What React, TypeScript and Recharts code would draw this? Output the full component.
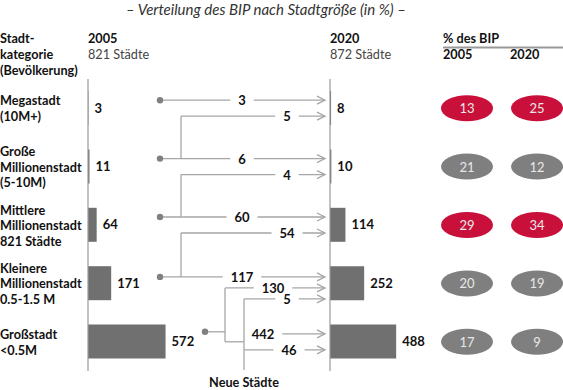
import { Bar, BarChart, LabelList, Scatter, ScatterChart, XAxis, YAxis } from "recharts";

const rowNames = ["Megastadt", "Große Millionenstadt", "Mittlere Millionenstadt", "Kleinere Millionenstadt", "Großstadt"];
const rowLabelLines = [
  ["Megastadt", "(10M+)"],
  ["Große", "Millionenstadt", "(5-10M)"],
  ["Mittlere", "Millionenstadt", "821 Städte"],
  ["Kleinere", "Millionenstadt", "0.5-1.5 M"],
  ["Großstadt", "<0.5M"],
];
const cities2005 = [3, 11, 64, 171, 572];
const cities2020 = [8, 10, 114, 252, 488];
const bip2005 = [13, 21, 29, 20, 17];
const bip2020 = [25, 12, 34, 19, 9];
const bipHighlight = [true, false, true, false, false];

// flows between categories, -1 = Neue Städte
const flowFrom = [0, 1, 1, 2, 2, 3, 3, 4, -1, 4, -1];
const flowTo = [0, 0, 1, 1, 2, 2, 3, 3, 3, 4, 4];
const flowValue = [3, 5, 6, 4, 60, 54, 117, 130, 5, 442, 46];

const W = 563;
const H = 390;
const TOP = 79;
const BOTTOM = 19;
const BAND = (H - TOP - BOTTOM) / rowNames.length;
const rowY = (i: number) => TOP + (i + 0.5) * BAND;

const FONT = 13;
const LABEL_FONT = 12.7;
const BAR_COLOR = "#707070";
const LINE_COLOR = "#a6a6a6";
const DOT_COLOR = "#808080";
const RED = "#c8103a";
const GREY = "#7f7f7f";

const data2005 = rowNames.map((name, i) => ({ name, value: cities2005[i] }));
const data2020 = rowNames.map((name, i) => ({ name, value: cities2020[i] }));
const bipData = (values: number[], year: number) =>
  rowNames.map((name, i) => ({ name, x: year, y: i, value: values[i], hi: bipHighlight[i] }));

// slot of each incoming flow inside its target row
const slotOffsets: Record<number, number[]> = { 2: [-8, 8], 3: [-6.5, 4.5, 15.5] };
const slotY = (k: number) => {
  const to = flowTo[k];
  const incoming = flowTo.map((t, j) => (t === to ? j : -1)).filter((j) => j >= 0);
  return rowY(to) + slotOffsets[incoming.length][incoming.indexOf(k)];
};
const selfIndex = (r: number) => flowFrom.findIndex((f, j) => f === r && flowTo[j] === r);

const DOT_X = 160;
const BRANCH_X = 181;
const END_X = 325;
const BIG_DOT_X = 205;
const BIG_BRANCH_X = 225;
const NEW_X = 244;

const ValueText = ({ x, y, v }: { x: number; y: number; v: number }) => {
  const w = String(v).length * 7.5 + 16;
  return (
    <g>
      <rect x={x - w / 2} y={y - 3} width={w} height={6} fill="#fff" />
      <text x={x} y={y + 5} textAnchor="middle" fontSize={FONT} fontWeight="bold" fill="#111">
        {v}
      </text>
    </g>
  );
};

const Arrow = ({ x1, y, v, lx }: { x1: number; y: number; v: number; lx: number }) => (
  <g>
    <line x1={x1} y1={y} x2={END_X} y2={y} stroke={LINE_COLOR} strokeWidth={1.3} />
    <polyline
      points={`${END_X - 8},${y - 4} ${END_X},${y} ${END_X - 8},${y + 4}`}
      fill="none"
      stroke={LINE_COLOR}
      strokeWidth={1.3}
    />
    <ValueText x={lx} y={y} v={v} />
  </g>
);

const Flows = () => {
  const els: any[] = [];
  const bigRow = rowNames.length - 1;
  flowValue.forEach((v, k) => {
    const from = flowFrom[k];
    const to = flowTo[k];
    const y = slotY(k);
    if (from === -1) {
      els.push(<Arrow key={k} x1={NEW_X} y={y} v={v} lx={to === bigRow ? 289 : 287} />);
    } else if (from === bigRow && to === bigRow) {
      els.push(<Arrow key={k} x1={NEW_X} y={y} v={v} lx={263} />);
    } else if (from === to) {
      els.push(<Arrow key={k} x1={DOT_X} y={y} v={v} lx={242} />);
      els.push(<circle key={`d${k}`} cx={DOT_X} cy={y} r={3.2} fill={DOT_COLOR} />);
    } else if (from === bigRow) {
      const sy = slotY(selfIndex(from));
      els.push(
        <g key={k}>
          <line x1={BIG_DOT_X} y1={sy - 2} x2={BIG_BRANCH_X} y2={sy - 2} stroke={LINE_COLOR} strokeWidth={1.3} />
          <line x1={BIG_BRANCH_X} y1={y} x2={BIG_BRANCH_X} y2={rowY(bigRow)} stroke={LINE_COLOR} strokeWidth={1.3} />
          <line x1={BIG_BRANCH_X} y1={rowY(bigRow)} x2={NEW_X} y2={rowY(bigRow)} stroke={LINE_COLOR} strokeWidth={1.3} />
          <circle cx={BIG_DOT_X} cy={sy - 2} r={3.2} fill={DOT_COLOR} />
        </g>
      );
      els.push(<Arrow key={`a${k}`} x1={BIG_BRANCH_X} y={y} v={v} lx={273} />);
    } else {
      const sy = slotY(selfIndex(from));
      els.push(<line key={`b${k}`} x1={BRANCH_X} y1={sy} x2={BRANCH_X} y2={y} stroke={LINE_COLOR} strokeWidth={1.3} />);
      els.push(<Arrow key={k} x1={BRANCH_X} y={y} v={v} lx={287} />);
    }
  });
  const newStart = Math.min(...flowFrom.map((f, k) => (f === -1 ? slotY(k) : Infinity)));
  els.push(<line key="new" x1={NEW_X} y1={newStart} x2={NEW_X} y2={370} stroke={LINE_COLOR} strokeWidth={1.3} />);
  return <g>{els}</g>;
};

const BipShape = (props: any) => {
  const { cx, cy, payload } = props;
  return (
    <g>
      <ellipse cx={cx} cy={cy} rx={26} ry={13} fill={payload.hi ? RED : GREY} />
      <text x={cx} y={cy + 5} textAnchor="middle" fontSize={FONT} fill="#e8e8e8">
        {payload.value}
      </text>
    </g>
  );
};

const CityBars = ({ data, left }: { data: any[]; left: number }) => (
  <div style={{ position: "absolute", left, top: 0 }}>
    <BarChart
      width={222}
      height={H}
      data={data}
      layout="vertical"
      margin={{ top: TOP, bottom: BOTTOM, left: 0, right: 0 }}
    >
      <XAxis type="number" domain={[0, 1630]} hide />
      <YAxis
        type="category"
        dataKey="name"
        width={1}
        tick={false}
        tickLine={false}
        axisLine={{ stroke: "#999", strokeWidth: 1.2 }}
      />
      <Bar dataKey="value" fill={BAR_COLOR} barSize={34} isAnimationActive={false}>
        <LabelList dataKey="value" position="right" offset={6} fill="#111" fontSize={FONT} fontWeight="bold" />
      </Bar>
    </BarChart>
  </div>
);

export default function App() {
  return (
    <div style={{ position: "relative", width: W, height: H, fontFamily: "Lato, 'Open Sans', sans-serif", overflow: "hidden" }}>
      <style>{"body{margin:0}"}</style>
      <svg width={W} height={H} style={{ position: "absolute", left: 0, top: 0 }}>
        <text x={266} y={15} textAnchor="middle" fontSize={15} fontStyle="italic" fill="#333">
          – Verteilung des BIP nach Stadtgröße (in %) –
        </text>
        <g fontSize={LABEL_FONT} fontWeight="bold" fill="#111">
          <text x={0} y={43}>Stadt-</text>
          <text x={0} y={59}>kategorie</text>
          <text x={0} y={75}>(Bevölkerung)</text>
          <text x={88} y={43}>2005</text>
          <text x={330} y={43}>2020</text>
          <text x={443} y={43}>% des BIP</text>
          <text x={443} y={59}>2005</text>
          <text x={510} y={59}>2020</text>
          <text x={NEW_X} y={387} textAnchor="middle">Neue Städte</text>
        </g>
        <g fontSize={LABEL_FONT} fill="#444">
          <text x={88} y={59}>821 Städte</text>
          <text x={330} y={59}>872 Städte</text>
        </g>
        <line x1={443} y1={47.5} x2={W} y2={47.5} stroke="#999" strokeWidth={2} />
        <g fontSize={LABEL_FONT} fontWeight="bold" fill="#111">
          {rowLabelLines.map((lines, i) =>
            lines.map((t, j) => (
              <text key={`${i}-${j}`} x={0} y={rowY(i) + (j - (lines.length - 1) / 2) * 15.5 + 5}>
                {t}
              </text>
            ))
          )}
        </g>
        <Flows />
      </svg>
      <CityBars data={data2005} left={87} />
      <CityBars data={data2020} left={329} />
      <div style={{ position: "absolute", left: 432, top: 0 }}>
        <ScatterChart width={131} height={H} margin={{ top: TOP, bottom: BOTTOM, left: 0, right: 0 }}>
          <XAxis type="number" dataKey="x" domain={[-0.5, 1.371]} hide />
          <YAxis type="number" dataKey="y" domain={[-0.5, 4.5]} reversed hide />
          <Scatter data={bipData(bip2005, 0)} shape={BipShape} isAnimationActive={false} />
          <Scatter data={bipData(bip2020, 1)} shape={BipShape} isAnimationActive={false} />
        </ScatterChart>
      </div>
    </div>
  );
}
